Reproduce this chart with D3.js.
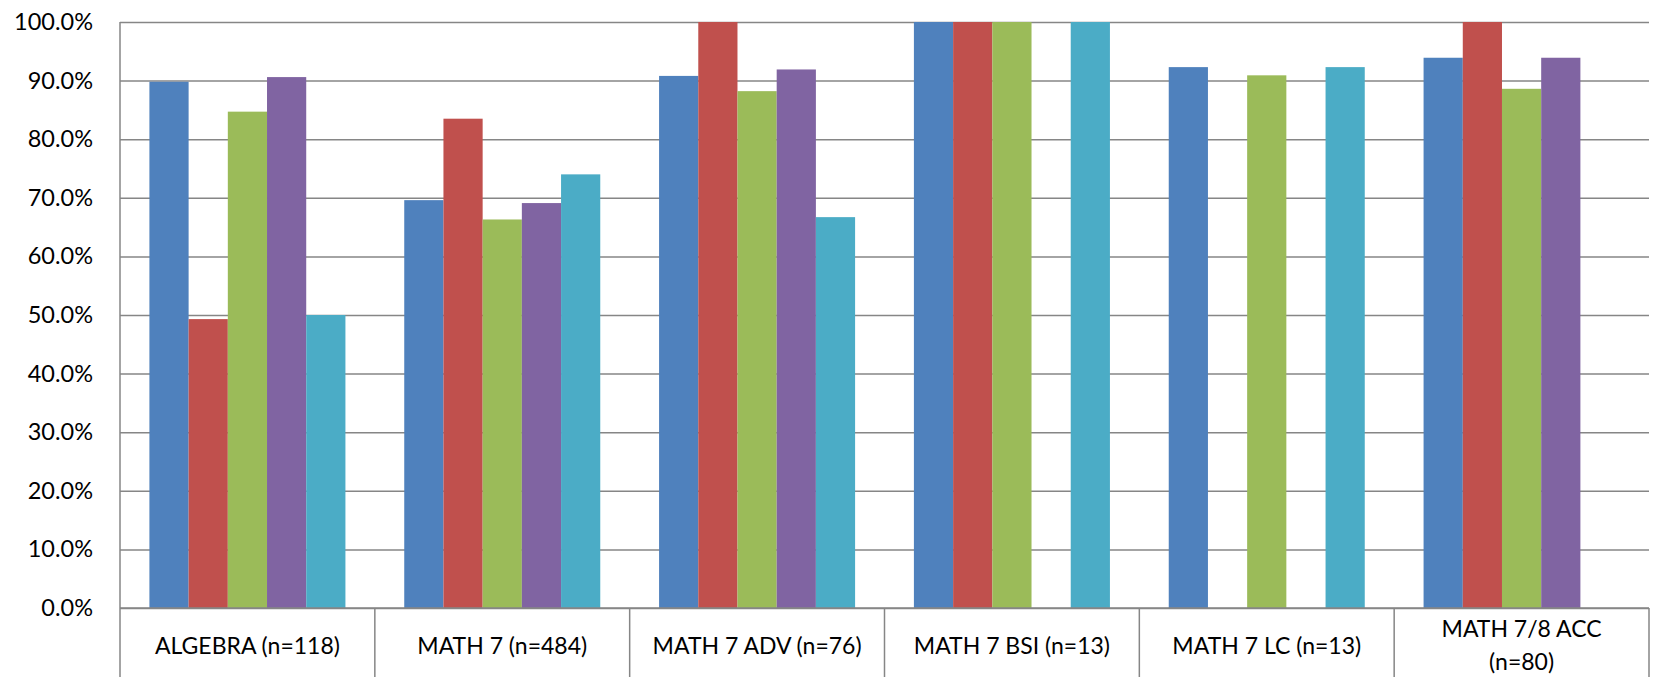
<!DOCTYPE html>
<html><head><meta charset="utf-8">
<script src="https://cdn.jsdelivr.net/npm/d3@7"></script>
<style>
html,body{margin:0;padding:0;background:#fff;}
svg{display:block;}
text{font-family:Lato,"Open Sans",sans-serif;fill:#000;}
</style></head>
<body>
<svg id="chart" width="1660" height="677"></svg>
<script>
const categories = ["ALGEBRA (n=118)", "MATH 7 (n=484)", "MATH 7 ADV (n=76)", "MATH 7 BSI (n=13)", "MATH 7 LC (n=13)", "MATH 7/8 ACC (n=80)"];
const categoryLines = [["ALGEBRA (n=118)"], ["MATH 7 (n=484)"], ["MATH 7 ADV (n=76)"], ["MATH 7 BSI (n=13)"], ["MATH 7 LC (n=13)"], ["MATH 7/8 ACC", "(n=80)"]];
const seriesNames = ["S1", "S2", "S3", "S4", "S5"];
const series1 = [89.8, 69.6, 90.8, 100.0, 92.3, 93.9];
const series2 = [49.3, 83.5, 100.0, 100.0, null, 100.0];
const series3 = [84.7, 66.3, 88.2, 100.0, 90.9, 88.6];
const series4 = [90.6, 69.1, 91.9, null, null, 93.9];
const series5 = [50.0, 74.0, 66.7, 100.0, 92.3, null];
const yTicks = [0, 10, 20, 30, 40, 50, 60, 70, 80, 90, 100];
const colors = ["#4F81BD", "#C0504D", "#9BBB59", "#8064A2", "#4BACC6"];

const seriesData = [series1, series2, series3, series4, series5];
const svg = d3.select("#chart");
const L = 120, R = 1649, T = 22, B = 608, H = 677;

const y = d3.scaleLinear().domain([0, 100]).range([B, T]);
const pi = 0.2308;
const x0 = d3.scaleBand().domain(categories).range([L, R]).paddingInner(pi).paddingOuter(pi / 2);
const x1 = d3.scaleBand().domain(seriesNames).range([0, x0.bandwidth()]).padding(0);

// gridlines
const yAxis = d3.axisLeft(y).tickValues(yTicks).tickSize(-(R - L)).tickFormat(d => d.toFixed(1) + "%").tickPadding(27);
const gy = svg.append("g").attr("transform", `translate(${L},0)`).call(yAxis);
gy.select(".domain").remove();
gy.selectAll(".tick line").attr("stroke", "#868686").attr("stroke-width", 1.5);
gy.selectAll(".tick text").style("font-size", "23.5px").attr("font-family", "Lato");

// bars
const bars = [];
categories.forEach((c, ci) => {
  seriesData.forEach((s, si) => {
    if (s[ci] != null) bars.push({c, s: seriesNames[si], v: s[ci], color: colors[si]});
  });
});
svg.append("g").selectAll("rect").data(bars).join("rect")
  .attr("x", d => x0(d.c) + x1(d.s))
  .attr("y", d => y(d.v))
  .attr("width", x1.bandwidth())
  .attr("height", d => B - y(d.v))
  .attr("fill", d => d.color);

// axis lines
svg.append("line").attr("x1", L).attr("x2", L).attr("y1", T).attr("y2", H)
  .attr("stroke", "#868686").attr("stroke-width", 1.5);
svg.append("line").attr("x1", L).attr("x2", R).attr("y1", B).attr("y2", B)
  .attr("stroke", "#868686").attr("stroke-width", 1.5);
const step = x0.step();
const bounds = categories.map((c, i) => L + step * (i + 1));
svg.append("g").selectAll("line").data(bounds).join("line")
  .attr("x1", d => d).attr("x2", d => d).attr("y1", B).attr("y2", H)
  .attr("stroke", "#868686").attr("stroke-width", 1.5);

// category labels
const lab = svg.append("g").selectAll("text").data(categories).join("text")
  .attr("x", c => x0(c) + x0.bandwidth() / 2)
  .attr("text-anchor", "middle")
  .style("font-size", "23px");
lab.each(function(c, i) {
  const lines = categoryLines[i];
  const t = d3.select(this);
  if (lines.length === 1) {
    t.append("tspan").attr("x", x0(c) + x0.bandwidth() / 2).attr("y", 646).attr("dy", "0.35em").text(lines[0]);
  } else {
    lines.forEach((ln, k) => {
      t.append("tspan").attr("x", x0(c) + x0.bandwidth() / 2).attr("y", 629 + k * 33).attr("dy", "0.35em").text(ln);
    });
  }
});
</script>
</body></html>
